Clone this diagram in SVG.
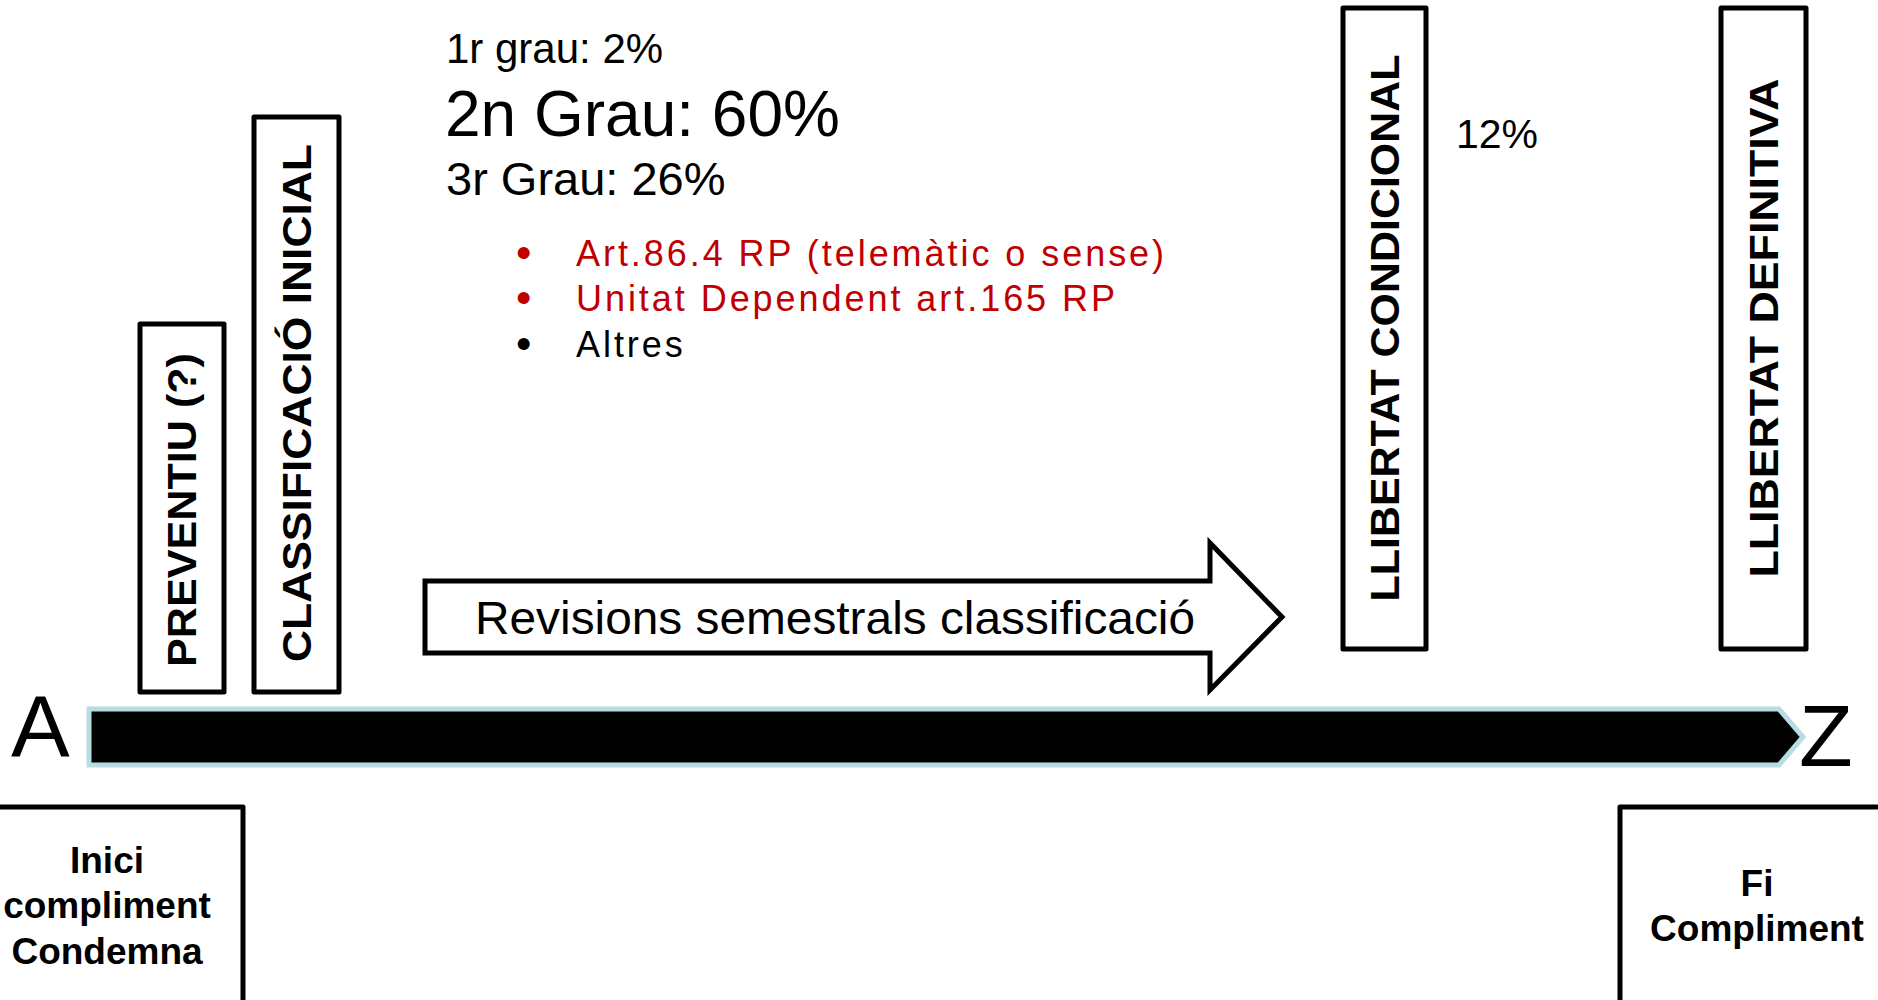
<svg xmlns="http://www.w3.org/2000/svg" width="1878" height="1000" viewBox="0 0 1878 1000">
<style>
text{font-family:"Liberation Sans",Arial,sans-serif;fill:#000}
.box{fill:#fff;stroke:#000;stroke-width:5;stroke-linejoin:round}
.vt{font-weight:bold;font-size:40px;text-anchor:middle;dominant-baseline:central}
.bt{font-weight:bold;font-size:37px;text-anchor:middle}
.red{fill:#C00000}
.bl{font-size:36px;letter-spacing:2.95px}
.dot{font-size:44px}
</style>
<rect width="1878" height="1000" fill="#fff"/>
<g id="connectors">
<polygon id="timeline" points="89,709 1779,709 1803,737 1779,765 89,765" fill="#000" stroke="#B7DDE3" stroke-width="5" stroke-linejoin="miter"/>
<polygon id="revisions-arrow" points="425,581 1210,581 1210,543 1282,617 1210,690 1210,653 425,653" fill="#fff" stroke="#000" stroke-width="5" stroke-linejoin="miter"/>
<text x="835" y="634" font-size="47" text-anchor="middle" textLength="720" lengthAdjust="spacingAndGlyphs">Revisions semestrals classificació</text>
</g>
<g id="label-A"><text x="11" y="757" font-size="88">A</text></g>
<g id="label-Z"><text x="1799" y="766" font-size="88">Z</text></g>
<g id="preventiu">
<rect class="box" x="140" y="324" width="84" height="368"/>
<text class="vt" transform="translate(182,510) rotate(-90)" textLength="314" lengthAdjust="spacingAndGlyphs">PREVENTIU (?)</text>
</g>
<g id="classificacio-inicial">
<rect class="box" x="254" y="117" width="85" height="575"/>
<text class="vt" transform="translate(297,403) rotate(-90)" textLength="518" lengthAdjust="spacingAndGlyphs">CLASSIFICACIÓ INICIAL</text>
</g>
<g id="llibertat-condicional">
<rect class="box" x="1343" y="8" width="83" height="641"/>
<text class="vt" transform="translate(1385,328) rotate(-90)" textLength="547" lengthAdjust="spacingAndGlyphs">LLIBERTAT CONDICIONAL</text>
</g>
<g id="llibertat-definitiva">
<rect class="box" x="1721" y="8" width="85" height="641"/>
<text class="vt" transform="translate(1764,328) rotate(-90)" textLength="499" lengthAdjust="spacingAndGlyphs">LLIBERTAT DEFINITIVA</text>
</g>
<g id="inici">
<rect class="box" x="-10" y="807" width="253" height="210"/>
<text class="bt" x="107" y="873">Inici</text>
<text class="bt" x="107" y="918">compliment</text>
<text class="bt" x="107" y="964">Condemna</text>
</g>
<g id="fi">
<rect class="box" x="1620" y="807" width="270" height="210"/>
<text class="bt" x="1757" y="896">Fi</text>
<text class="bt" x="1757" y="941">Compliment</text>
</g>
<g id="graus">
<text x="446" y="63" font-size="42">1r grau: 2%</text>
<text x="445" y="136" font-size="64">2n Grau: 60%</text>
<text x="446" y="195" font-size="47">3r Grau: 26%</text>
</g>
<g id="modalitats">
<text x="516" y="268" class="dot red">•</text>
<text x="576" y="266" class="bl red">Art.86.4 RP (telemàtic o sense)</text>
<text x="516" y="313" class="dot red">•</text>
<text x="576" y="311" class="bl red">Unitat Dependent art.165 RP</text>
<text x="516" y="359" class="dot">•</text>
<text x="576" y="357" class="bl">Altres</text>
</g>
<g id="pct-lc"><text x="1456" y="148" font-size="41">12%</text></g>
</svg>
